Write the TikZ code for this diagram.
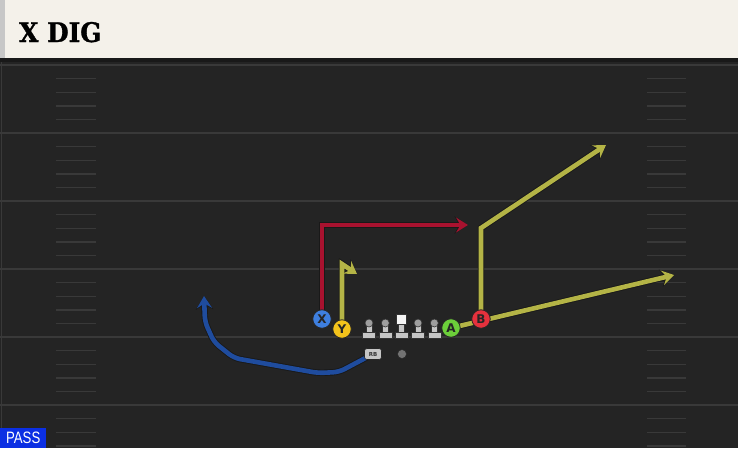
\documentclass[tikz,border=0pt]{standalone}
\usepackage{fontspec}
\usepackage{tikz}
\usetikzlibrary{positioning, arrows.meta, calc}
\newfontfamily\titlefont[FakeStretch=0.92, FakeBold=1.2]{DejaVu Serif}
\newfontfamily\tagfont[FakeStretch=0.8]{Liberation Sans}
\setsansfont{DejaVu Sans}

\definecolor{turf}{HTML}{242424}
\definecolor{chalk}{HTML}{393939}
\definecolor{banner}{HTML}{F4F1EA}
\definecolor{xblue}{HTML}{3E7FDF}
\definecolor{yyellow}{HTML}{F3C31B}
\definecolor{agreen}{HTML}{6CCF3A}
\definecolor{bred}{HTML}{E5313D}
\definecolor{redroute}{HTML}{A8122F}
\definecolor{yelroute}{HTML}{B4B446}
\definecolor{blueroute}{HTML}{1F4C9E}
\definecolor{lineman}{HTML}{C6C6C6}
\definecolor{passblue}{HTML}{0B2FE3}

\pgfdeclarelayer{field}
\pgfdeclarelayer{routes}
\pgfsetlayers{field,routes,main}

\tikzset{
    player/.style={circle, draw=black!85, line width=0.8pt, minimum size=18.5pt, inner sep=0pt,
        font=\sffamily\bfseries\fontsize{12}{12}\selectfont, text=black!85},
    route/.style={line width=4.6pt, line join=miter,
        -{Stealth[length=12pt, width=15pt, inset=4.5pt]},
        preaction={draw=black!90, line width=6.4pt, -{Stealth[length=13.5pt, width=17.5pt, inset=5pt]}}},
    hash/.style={chalk, line width=1.4pt},
    yardline/.style={chalk, line width=2pt},
    pawn/.style={lineman, draw=black!80, line width=0.6pt}
}

\def\fieldtop{65}
\def\yard{68}

\begin{document}
\begin{tikzpicture}[x=1pt, y=-1pt]
    \useasboundingbox (0,0) rectangle (738,448);

    \begin{pgfonlayer}{field}
        % turf and banner
        \fill[turf] (0,0) rectangle (738,448);
        \fill[banner] (0,0) rectangle (738,58);
        \fill[black!22] (0,0) rectangle (5,58);
        \fill[black!90] (0,58) rectangle (738,62);
        \draw[chalk, line width=1pt] (1,62) -- (1,448);

        % draw yard lines
        \foreach \k in {0,...,5}
        {
            \draw[yardline] (0, \fieldtop + \k * \yard) -- (738, \fieldtop + \k * \yard);
        }

        % draw hash marks
        \foreach \k in {0,...,5}
            \foreach \h in {1,...,4}
            {
                \draw[hash] (56, {\fieldtop + \k * \yard + \h * 13.6}) -- (96, {\fieldtop + \k * \yard + \h * 13.6});
                \draw[hash] (647, {\fieldtop + \k * \yard + \h * 13.6}) -- (686, {\fieldtop + \k * \yard + \h * 13.6});
            }
    \end{pgfonlayer}

    \node[anchor=base west, inner sep=0pt, font=\titlefont\bfseries\fontsize{27}{27}\selectfont] (title) at (19,42) {X DIG};

    % offensive line
    \foreach \lx in {369, 385.3, 418, 434.3}
    {
        \filldraw[pawn] (\lx-6.5, 332) rectangle (\lx+6.5, 338.5);
        \filldraw[pawn] (\lx-3, 325) rectangle (\lx+3, 332);
        \filldraw[pawn, fill=black!38] (\lx, 323) circle (4);
    }
    \filldraw[pawn] (395.1, 332) rectangle (408.1, 338.5);
    \filldraw[pawn] (398.6, 323) rectangle (404.6, 332);
    \filldraw[pawn, fill=white!96!black] (396.6, 314) rectangle (406.6, 324);

    % players
    \node[player, fill=xblue] (X) at (322, 319) {X};
    \node[player, fill=yyellow] (Y) at (342, 329) {Y};
    \node[player, fill=agreen] (A) at (451, 328) {A};
    \node[player, fill=bred] (B) at (481, 319) {B};
    \node[fill=lineman, draw=black!85, line width=0.6pt, rounded corners=2.5pt, minimum width=17pt,
        minimum height=11pt, inner sep=0pt, text=black!80, font=\sffamily\bfseries\fontsize{5.5}{5.5}\selectfont] (RB) at (373, 354) {RB};
    \node[circle, fill=black!55, draw=black!85, line width=0.5pt, minimum size=9pt, inner sep=0pt] (QB) at (402, 354) {};

    \node[fill=passblue, text=white, anchor=south west, minimum width=46pt, minimum height=20pt, inner sep=0pt,
        font=\tagfont\fontsize{16.5}{16.5}\selectfont] (pass) at (0,448) {PASS};

    % route breaks
    \coordinate (x1) at (322, 225);
    \coordinate (x2) at (468, 225);
    \coordinate (y1) at (342, 264);
    \coordinate (y2) at (357, 274);
    \coordinate (b1) at (481, 228);
    \coordinate (b2) at (606, 145);
    \coordinate (a1) at (674, 275);
    \coordinate (r1) at (339, 372);
    \coordinate (r2) at (318, 373);
    \coordinate (r3) at (234, 358);
    \coordinate (r4) at (214, 342);
    \coordinate (r5) at (205, 322);
    \coordinate (r6) at (204, 296);

    \begin{pgfonlayer}{routes}
        \draw[route, redroute] (X.center) -- (x1) -- (x2);
        \draw[route, yelroute] (Y.center) -- (y1) -- (y2);
        \draw[route, yelroute] (A.center) -- (a1);
        \draw[route, yelroute] (B.center) -- (b1) -- (b2);
        \draw[route, blueroute, rounded corners=6pt] (RB.center) -- (r1) -- (r2) -- (r3) -- (r4) -- (r5) -- (r6);
    \end{pgfonlayer}
\end{tikzpicture}
\end{document}
